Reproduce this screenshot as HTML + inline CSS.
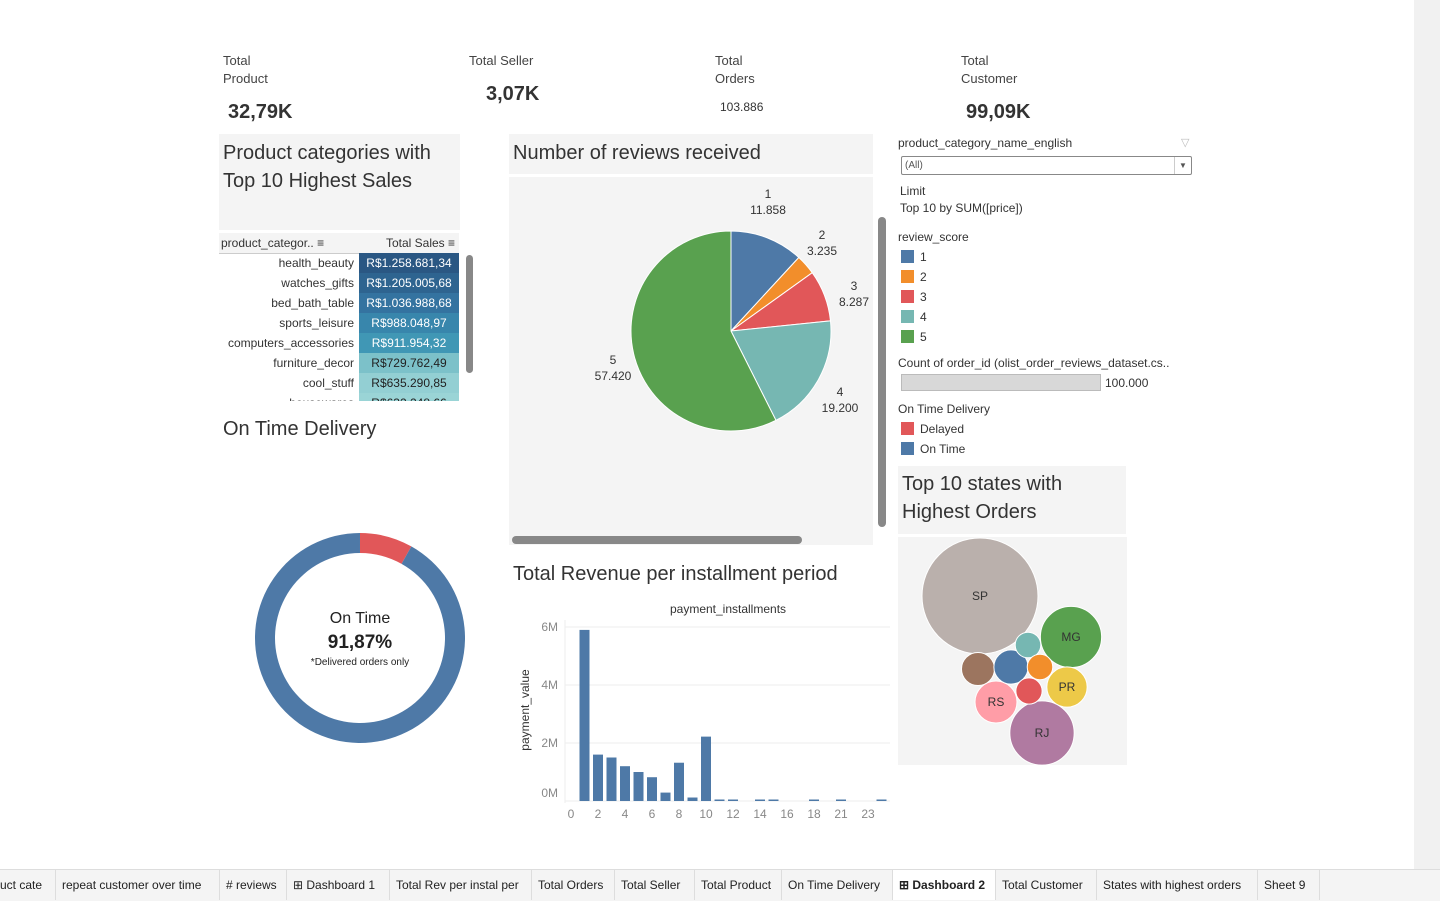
<!DOCTYPE html>
<html><head><meta charset="utf-8"><style>
body{margin:0;width:1440px;height:900px;background:#fff;font-family:"Liberation Sans",sans-serif;overflow:hidden;position:relative}
.a{position:absolute}
.kl{font-size:13px;color:#444;line-height:18px}
.kv{font-size:20px;font-weight:bold;color:#333}
.t{font-size:20px;color:#333;line-height:28px}
.tab{position:absolute;top:870px;height:30px;line-height:30px;font-size:12px;color:#222;border-right:1px solid #ddd;padding:0 6px;white-space:nowrap;box-sizing:border-box;overflow:hidden}
.row{position:absolute;left:219px;width:240px;height:20px;font-size:12px;line-height:20px}
.row .n{position:absolute;right:105px;color:#333;text-align:right}
.row .v{position:absolute;left:140px;width:100px;text-align:center}
.lg{font-size:12px;color:#333}
.sw{display:inline-block;width:13px;height:13px;vertical-align:-2px;margin-right:6px}
</style></head><body>
<div class="a" style="left:1414px;top:0;width:26px;height:870px;background:#f1f1f1"></div>
<div class="a kl" style="left:223px;top:52px">Total<br>Product</div>
<div class="a kv" style="left:228px;top:101px">32,79K</div>
<div class="a kl" style="left:469px;top:52px">Total Seller</div>
<div class="a kv" style="left:486px;top:83px">3,07K</div>
<div class="a kl" style="left:715px;top:52px">Total<br>Orders</div>
<div class="a" style="left:720px;top:100px;font-size:12px;color:#333">103.886</div>
<div class="a kl" style="left:961px;top:52px">Total<br>Customer</div>
<div class="a kv" style="left:966px;top:101px">99,09K</div>

<div class="a t" style="left:219px;top:134px;width:241px;height:96px;background:#f4f4f4;padding:5px 4px;box-sizing:border-box">Product categories with Top 10 Highest Sales</div>
<div class="a" style="left:219px;top:233px;width:240px;height:20px;background:#f4f4f4;border-bottom:1px solid #ccc;font-size:12px;line-height:20px;color:#333"><span style="position:absolute;left:2px">product_categor.. ≡</span><span style="position:absolute;right:4px">Total Sales ≡</span></div>
<div class="a" style="left:219px;top:253px;width:240px;height:148px;overflow:hidden">
<div id="rows"></div></div>
<div class="a" style="left:466px;top:255px;width:7px;height:118px;background:#888;border-radius:4px"></div>
<div class="a t" style="left:223px;top:415px">On Time Delivery</div>
<div class="a" style="left:509px;top:134px;width:364px;height:40px;background:#f4f4f4"><div class="t" style="padding:5px 4px">Number of reviews received</div></div>
<div class="a" style="left:509px;top:177px;width:364px;height:368px;background:#f4f4f4"></div>
<div class="a" style="left:878px;top:217px;width:8px;height:310px;background:#888;border-radius:4px"></div>
<div class="a" style="left:512px;top:536px;width:290px;height:8px;background:#888;border-radius:4px"></div>
<div class="a t" style="left:513px;top:560px">Total Revenue per installment period</div>

<div class="a lg" style="left:898px;top:136px;font-size:12px">product_category_name_english</div>
<div class="a" style="left:1181px;top:136px;color:#bbb;font-size:11px">▽</div>
<div class="a" style="left:901px;top:156px;width:289px;height:17px;border:1px solid #888;border-radius:2px;font-size:10px;line-height:17px;color:#555"><span style="padding-left:3px">(All)</span><span style="position:absolute;right:0;width:16px;border-left:1px solid #ccc;text-align:center;font-size:8px">▼</span></div>
<div class="a lg" style="left:900px;top:184px">Limit</div>
<div class="a lg" style="left:900px;top:201px">Top 10 by SUM([price])</div>
<div class="a lg" style="left:898px;top:227px;line-height:20px">review_score<br>
<span class="sw" style="background:#4e79a7;margin-left:3px"></span>1<br><span class="sw" style="background:#f28e2b;margin-left:3px"></span>2<br><span class="sw" style="background:#e15759;margin-left:3px"></span>3<br><span class="sw" style="background:#76b7b2;margin-left:3px"></span>4<br><span class="sw" style="background:#59a14f;margin-left:3px"></span>5</div>
<div class="a lg" style="left:898px;top:356px">Count of order_id (olist_order_reviews_dataset.cs..</div>
<div class="a" style="left:901px;top:374px;width:198px;height:15px;background:#d8d8d8;border:1px solid #bbb"></div>
<div class="a lg" style="left:1105px;top:376px">100.000</div>
<div class="a lg" style="left:898px;top:399px;line-height:20px">On Time Delivery<br><span class="sw" style="background:#e15759;margin-left:3px"></span>Delayed<br><span class="sw" style="background:#4e79a7;margin-left:3px"></span>On Time</div>
<div class="a t" style="left:898px;top:466px;width:228px;height:68px;background:#f4f4f4;padding:4px;box-sizing:border-box">Top 10 states with Highest Orders</div>
<div class="a" style="left:898px;top:537px;width:229px;height:228px;background:#f4f4f4"></div>

<svg id="svg" class="a" style="left:0;top:0" width="1440" height="870" font-family="Liberation Sans, sans-serif"></svg>

<div class="a" style="left:0;top:869px;width:1440px;height:31px;background:#f4f4f4;border-top:1px solid #ddd"></div>
<div id="tabs"></div>

<script>
const tableCats=["health_beauty","watches_gifts","bed_bath_table","sports_leisure","computers_accessories","furniture_decor","cool_stuff","housewares"];
const tableVals=["R$1.258.681,34","R$1.205.005,68","R$1.036.988,68","R$988.048,97","R$911.954,32","R$729.762,49","R$635.290,85","R$632.248,66"];
const tableColors=["#2a5783","#2e6490","#3473a0","#3886ac","#4097b5","#7cc1c9","#93cfd3","#9ad4d6"];
const pieLabels=["1","2","3","4","5"];
const pieValues=[11858,3235,8287,19200,57420];
const pieColors=["#4e79a7","#f28e2b","#e15759","#76b7b2","#59a14f"];
const donutCats=["Delayed","On Time"];
const donutValues=[8.13,91.87];
const barCats=[0,1,2,3,4,5,6,7,8,9,10,11,12,13,14,15,16,17,18,20,21,22,23,24];
const barValues=[0,5.9,1.6,1.5,1.2,1.0,0.82,0.29,1.32,0.12,2.22,0.005,0.04,0,0.003,0.04,0,0,0.003,0,0.003,0,0,0.003];
const barTicks=[0,2,4,6,8,10,12,14,16,18,21,23];
const yTicks=[0,2,4,6];
const states=["SP","MG","PR","RJ","RS","BA","SC","ES","GO","DF"];
const stateOrders=[41746,11635,5045,12852,5466,3380,3637,2033,2020,2140];
const stateColors=["#bab0ac","#59a14f","#edc948","#b07aa1","#ff9da7","#9c755f","#4e79a7","#76b7b2","#f28e2b","#e15759"];
const bubbleCx=[980,1071,1067,1042,996,978,1011,1028,1040,1029];
const bubbleCy=[596,637,687,733,702,669,667,645,667,691];
const tabs=["uct cate","repeat customer over time","# reviews","⊞ Dashboard 1","Total Rev per instal per","Total Orders","Total Seller","Total Product","On Time Delivery","⊞ Dashboard 2","Total Customer","States with highest orders","Sheet 9"];
const tabEdges=[0,56,220,287,390,532,615,695,782,893,996,1097,1258,1320];

const NS="http://www.w3.org/2000/svg",svg=document.getElementById('svg');
function mk(t,a,p){const e=document.createElementNS(NS,t);for(const k in a)e.setAttribute(k,a[k]);(p||svg).appendChild(e);return e;}

const rows=document.getElementById('rows');
tableCats.forEach((c,i)=>{const r=document.createElement('div');r.className='row';r.style.position='absolute';r.style.left='0';r.style.top=(i*20)+'px';


r.innerHTML='<span class="n">'+c+'</span><span class="v" style="background:'+tableColors[i]+';color:'+(i<5?'#fff':'#222')+'">'+tableVals[i]+'</span>';rows.appendChild(r);});

const pcx=731,pcy=331,pr=100,tot=pieValues.reduce((a,b)=>a+b,0);let ang=0;
const labPos=[[768,206],[822,247],[854,298],[840,404],[613,372]];
pieValues.forEach((v,i)=>{const a0=ang,a1=ang+v/tot*2*Math.PI;ang=a1;
const x0=pcx+pr*Math.sin(a0),y0=pcy-pr*Math.cos(a0),x1=pcx+pr*Math.sin(a1),y1=pcy-pr*Math.cos(a1);
const p=mk('path',{d:`M${pcx},${pcy}L${x0},${y0}A${pr},${pr} 0 ${a1-a0>Math.PI?1:0} 1 ${x1},${y1}Z`,fill:pieColors[i],stroke:'#fff','stroke-width':1});


const t=mk('text',{x:labPos[i][0],y:labPos[i][1]-8,'font-size':12,fill:'#333','text-anchor':'middle'});t.textContent=pieLabels[i];


const t2=mk('text',{x:labPos[i][0],y:labPos[i][1]+8,'font-size':12,fill:'#333','text-anchor':'middle'});t2.textContent=v.toLocaleString('de-DE');


});

const dcx=360,dcy=638,ro=105,ri=85,dcol=["#e15759","#4e79a7"];let da=0;const dt=donutValues[0]+donutValues[1];
donutValues.forEach((v,i)=>{const a0=da,a1=da+v/dt*2*Math.PI;da=a1;const big=a1-a0>Math.PI?1:0;
const P=(r,a)=>[dcx+r*Math.sin(a),dcy-r*Math.cos(a)];const [a,b]=P(ro,a0),[c,d]=P(ro,a1-1e-4),[e,f]=P(ri,a1-1e-4),[g,h]=P(ri,a0);
const p=mk('path',{d:`M${a},${b}A${ro},${ro} 0 ${big} 1 ${c},${d}L${e},${f}A${ri},${ri} 0 ${big} 0 ${g},${h}Z`,fill:dcol[i]});

});
[["On Time",623,16,'normal'],[donutValues[1].toFixed(2).replace('.',',')+'%',648,19,'bold'],["*Delivered orders only",665,10,'normal']].forEach(([s,y,fs,fw])=>{const t=mk('text',{x:dcx,y:y,'font-size':fs,'font-weight':fw,'text-anchor':'middle',fill:'#222'});t.textContent=s;

});

const x=i=>571+i*13.5, y=v=>801-v*29;
yTicks.forEach(v=>{mk('line',{x1:565,x2:890,y1:y(v),y2:y(v),stroke:'#eee'});const t=mk('text',{x:558,y:y(v)+(v==0?-4:4),'font-size':12,fill:'#888','text-anchor':'end'});t.textContent=v+'M';

});
mk('line',{x1:565,x2:565,y1:620,y2:803,stroke:'#eee'});
barCats.forEach((c,i)=>{if(barValues[i]<=0)return;const h=Math.max(barValues[i]*29,1.5);const r=mk('rect',{x:x(i)-5,y:801-h,width:10,height:h,fill:'#4e79a7'});

});
barTicks.forEach(c=>{const i=barCats.indexOf(c);const t=mk('text',{x:x(i),y:818,'font-size':12,fill:'#888','text-anchor':'middle'});t.textContent=c;

});
let t=mk('text',{x:728,y:613,'font-size':12,fill:'#333','text-anchor':'middle'});t.textContent='payment_installments';


t=mk('text',{x:529,y:710,'font-size':12,fill:'#333','text-anchor':'middle',transform:'rotate(-90 529 710)'});t.textContent='payment_value';



const maxO=Math.max(...stateOrders);
states.forEach((s,i)=>{const r=58*Math.sqrt(stateOrders[i]/maxO);const c=mk('circle',{cx:bubbleCx[i],cy:bubbleCy[i],r:r,fill:stateColors[i],stroke:'#fff','stroke-width':1});


if(["SP","MG","PR","RJ","RS"].includes(s)){const t=mk('text',{x:bubbleCx[i],y:bubbleCy[i]+4,'font-size':12,fill:'#333','text-anchor':'middle'});t.textContent=s;

}});

const tb=document.getElementById('tabs');
tabs.forEach((s,i)=>{const d=document.createElement('div');d.className='tab';d.style.left=tabEdges[i]+'px';d.style.width=(tabEdges[i+1]-tabEdges[i])+'px';d.textContent=s;if(s.includes('Dashboard 2')){d.style.background='#fff';d.style.fontWeight='bold';}
if(i==0)d.style.paddingLeft='0';


tb.appendChild(d);});
</script>
</body></html>
